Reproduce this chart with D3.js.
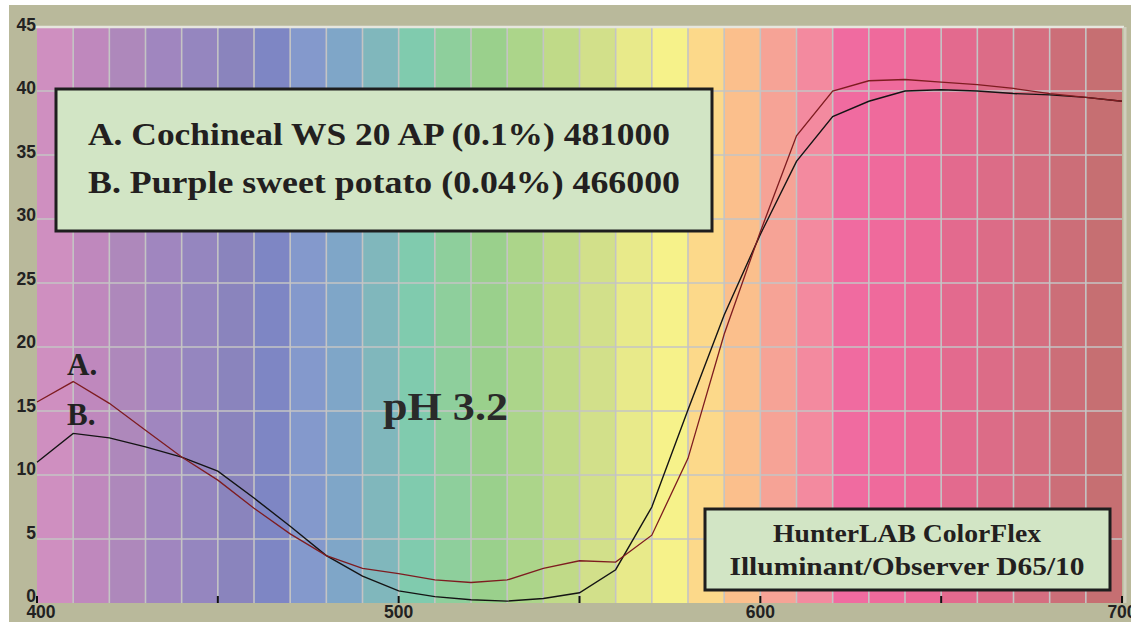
<!DOCTYPE html>
<html>
<head>
<meta charset="utf-8">
<script src="https://cdn.jsdelivr.net/npm/d3@7"></script>
<style>
  body { margin: 0; background: #fff; }
  svg { display: block; }
</style>
</head>
<body>
<script>
// wavelengths (nm) sampled every 10 nm
var wavelengths = [400, 410, 420, 430, 440, 450, 460, 470, 480, 490, 500,
  510, 520, 530, 540, 550, 560, 570, 580, 590, 600,
  610, 620, 630, 640, 650, 660, 670, 680, 690, 700];

// A. Cochineal WS 20 AP (0.1%)
var cochineal = [15.7, 17.3, 15.6, 13.5, 11.4, 9.6, 7.4, 5.4, 3.7, 2.7, 2.3,
  1.8, 1.6, 1.8, 2.7, 3.3, 3.2, 5.3, 11.3, 21.0, 29.0,
  36.5, 40.0, 40.8, 40.9, 40.7, 40.5, 40.2, 39.8, 39.5, 39.2];

// B. Purple sweet potato (0.04%)
var sweetPotato = [11.0, 13.25, 12.9, 12.2, 11.4, 10.3, 8.2, 6.0, 3.7, 2.1, 0.95,
  0.5, 0.25, 0.15, 0.35, 0.8, 2.6, 7.5, 15.1, 22.5, 28.8,
  34.5, 38.0, 39.2, 40.0, 40.1, 40.0, 39.8, 39.7, 39.5, 39.2];

var yTicks = [0, 5, 10, 15, 20, 25, 30, 35, 40, 45];
var xTickLabels = [400, 500, 600, 700];
var xTickMarks = [400, 450, 500, 550, 600, 650, 700];

var legendLines = ["A. Cochineal WS 20 AP (0.1%) 481000",
  "B. Purple sweet potato (0.04%) 466000"];
var instrumentLines = ["HunterLAB ColorFlex", "Illuminant/Observer D65/10"];

// spectrum band colours, one per 10 nm
var bandColors = ["#cf8fc0", "#bf88bd", "#ae88bb", "#a086bf", "#9586bf", "#8a84bd",
  "#7e86c4", "#8499cc", "#7fa6c8", "#80b7bc", "#80cbae", "#8ecf9c", "#9ad08c",
  "#acd58a", "#c0da88", "#d2e08a", "#e8ea8a", "#f6f28a", "#fcd98a", "#fbbf8c",
  "#f6a396", "#f38a9f", "#f06ba0", "#ef6a9c", "#ec6997", "#e36a8e", "#dc6c87",
  "#d56e80", "#cc6e78", "#c66f72"];

var width = 1131,
  height = 622;

var x = d3.scaleLinear().domain([400, 700]).range([37, 1122]);
var y = d3.scaleLinear().domain([0, 45]).range([603, 27]);
var yLabel = d3.scaleLinear().domain([0, 45]).range([596, 24.5]);

var svg = d3.select("body").append("svg")
  .attr("width", width)
  .attr("height", height);

// tan frame
svg.append("rect")
  .attr("x", 9).attr("y", 5)
  .attr("width", width - 9).attr("height", height - 5)
  .attr("fill", "#b9b99b");

// colour bands
svg.selectAll(".band")
  .data(wavelengths.slice(0, -1))
  .enter().append("rect")
  .attr("class", "band")
  .attr("x", function (d) { return x(d); })
  .attr("y", y(45))
  .attr("width", function (d) { return x(d + 10) - x(d); })
  .attr("height", y(0) - y(45))
  .attr("fill", function (d, i) { return bandColors[i]; });

// grid
svg.selectAll(".vgrid")
  .data(wavelengths.slice(1, -1))
  .enter().append("line")
  .attr("class", "vgrid")
  .attr("x1", function (d) { return x(d); })
  .attr("x2", function (d) { return x(d); })
  .attr("y1", y(45)).attr("y2", y(0))
  .attr("stroke", "#c4c4c4")
  .attr("stroke-width", 1.6);

svg.selectAll(".hgrid")
  .data(yTicks.slice(1, -1))
  .enter().append("line")
  .attr("class", "hgrid")
  .attr("x1", x(400)).attr("x2", x(700))
  .attr("y1", function (d) { return y(d); })
  .attr("y2", function (d) { return y(d); })
  .attr("stroke", "#c4c4c4")
  .attr("stroke-width", 1.6);

// top edge
svg.append("line")
  .attr("x1", x(400) - 2).attr("x2", x(700) + 2)
  .attr("y1", y(45)).attr("y2", y(45))
  .attr("stroke", "#e6e6de")
  .attr("stroke-width", 2.5);

// right edge highlight
svg.append("line")
  .attr("x1", x(700) + 3).attr("x2", x(700) + 3)
  .attr("y1", y(45)).attr("y2", y(0))
  .attr("stroke", "#cfcfbd")
  .attr("stroke-width", 3);

// tick marks
svg.selectAll(".xtick")
  .data(xTickMarks)
  .enter().append("line")
  .attr("class", "xtick")
  .attr("x1", function (d) { return x(d); })
  .attr("x2", function (d) { return x(d); })
  .attr("y1", y(0) - 7).attr("y2", y(0))
  .attr("stroke", "#111")
  .attr("stroke-width", 2);

// axis labels
svg.selectAll(".ylab")
  .data(yTicks)
  .enter().append("text")
  .attr("class", "ylab")
  .attr("x", 36)
  .attr("y", function (d) { return yLabel(d); })
  .attr("dy", "0.36em")
  .attr("text-anchor", "end")
  .attr("font-family", "Liberation Sans, Arial, sans-serif")
  .attr("font-weight", "bold")
  .attr("font-size", 17.5)
  .attr("fill", "#222")
  .text(function (d) { return d; });

svg.selectAll(".xlab")
  .data(xTickLabels)
  .enter().append("text")
  .attr("class", "xlab")
  .attr("x", function (d, i) { return x(d) + (i === 0 ? 4 : 0); })
  .attr("y", 618)
  .attr("text-anchor", "middle")
  .attr("font-family", "Liberation Sans, Arial, sans-serif")
  .attr("font-weight", "bold")
  .attr("font-size", 17.5)
  .attr("fill", "#222")
  .text(function (d) { return d; });

// curves
var line = d3.line()
  .x(function (d, i) { return x(wavelengths[i]); })
  .y(function (d) { return y(d); });

svg.append("path")
  .datum(sweetPotato)
  .attr("d", line)
  .attr("fill", "none")
  .attr("stroke", "#141414")
  .attr("stroke-width", 1.4);

svg.append("path")
  .datum(cochineal)
  .attr("d", line)
  .attr("fill", "none")
  .attr("stroke", "#7e1c20")
  .attr("stroke-width", 1.3);

var serif = "Liberation Serif, Times New Roman, serif";

// curve labels
svg.append("text")
  .attr("x", 67).attr("y", 375)
  .attr("font-family", serif).attr("font-weight", "bold")
  .attr("font-size", 31).attr("fill", "#222")
  .text("A.");
svg.append("text")
  .attr("x", 67).attr("y", 425)
  .attr("font-family", serif).attr("font-weight", "bold")
  .attr("font-size", 31).attr("fill", "#222")
  .text("B.");

svg.append("text")
  .attr("x", 383).attr("y", 420)
  .attr("textLength", 125).attr("lengthAdjust", "spacingAndGlyphs")
  .attr("font-family", serif).attr("font-weight", "bold")
  .attr("font-size", 40).attr("fill", "#2a2a2a")
  .text("pH 3.2");

// legend box
svg.append("rect")
  .attr("x", 56).attr("y", 89)
  .attr("width", 656).attr("height", 142)
  .attr("fill", "#d2e5c5")
  .attr("stroke", "#1e1e1e")
  .attr("stroke-width", 3);

svg.selectAll(".legend")
  .data(legendLines)
  .enter().append("text")
  .attr("class", "legend")
  .attr("x", 88)
  .attr("y", function (d, i) { return 145 + i * 48; })
  .attr("textLength", function (d, i) { return i === 0 ? 582 : 592; })
  .attr("lengthAdjust", "spacingAndGlyphs")
  .attr("font-family", serif).attr("font-weight", "bold")
  .attr("font-size", 31).attr("fill", "#231f20")
  .text(function (d) { return d; });

// instrument box
svg.append("rect")
  .attr("x", 705).attr("y", 509)
  .attr("width", 405).attr("height", 81)
  .attr("fill", "#d2e5c5")
  .attr("stroke", "#1e1e1e")
  .attr("stroke-width", 3);

svg.selectAll(".instr")
  .data(instrumentLines)
  .enter().append("text")
  .attr("class", "instr")
  .attr("x", 907)
  .attr("y", function (d, i) { return 542 + i * 33; })
  .attr("text-anchor", "middle")
  .attr("textLength", function (d, i) { return i === 0 ? 268 : 355; })
  .attr("lengthAdjust", "spacingAndGlyphs")
  .attr("font-family", serif).attr("font-weight", "bold")
  .attr("font-size", 25).attr("fill", "#231f20")
  .text(function (d) { return d; });
</script>
</body>
</html>
